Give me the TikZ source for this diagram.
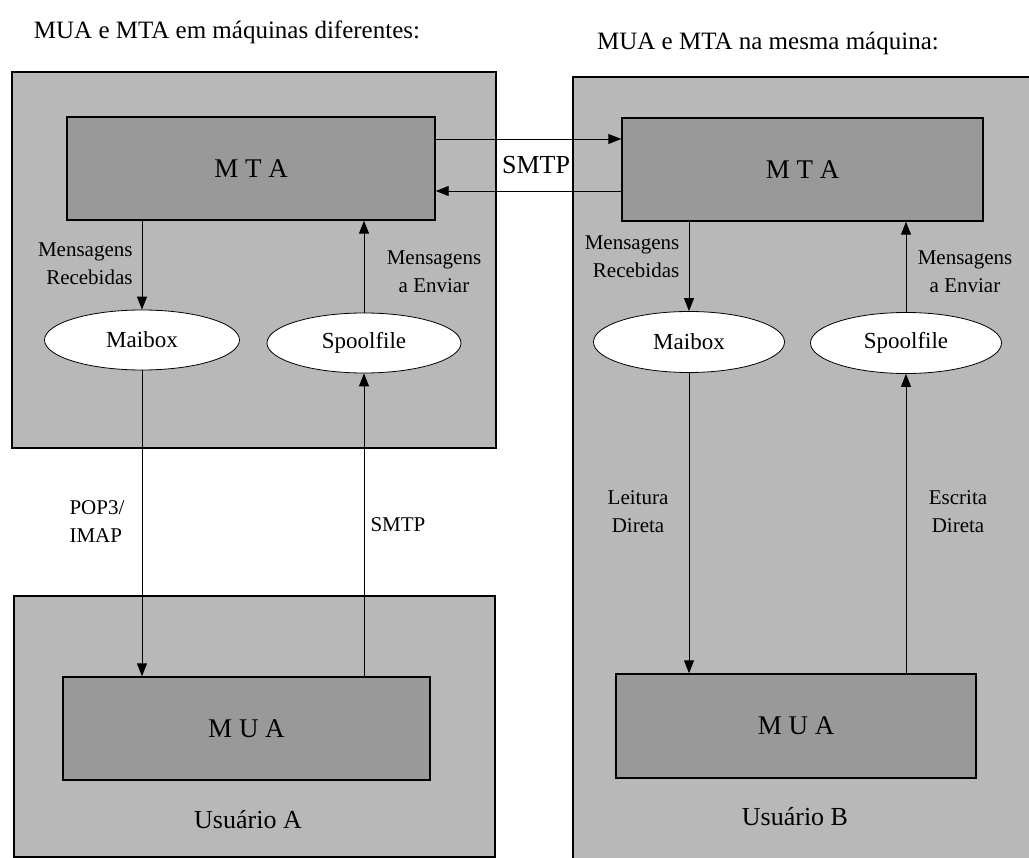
\documentclass[tikz,border=0pt]{standalone}
\usepackage{fontspec}
\setmainfont{Liberation Serif}
\usetikzlibrary{shapes.geometric,arrows.meta}

\definecolor{hostgray}{gray}{0.72}
\definecolor{agentgray}{gray}{0.6}

\begin{document}
\begin{tikzpicture}[
    x=1pt, y=-1pt,
    host/.style={draw, line width=1.3pt, fill=hostgray, inner sep=0pt},
    agent/.style={draw, line width=1.4pt, fill=agentgray, inner sep=0pt, font=\fontsize{27}{28}\selectfont},
    store/.style={draw, ellipse, fill=white, line width=0.8pt, inner sep=0pt, font=\fontsize{23}{26}\selectfont},
    note/.style={font=\fontsize{21}{28}\selectfont, inner sep=0pt},
    title/.style={font=\fontsize{25}{28}\selectfont, inner sep=0pt},
    >={Triangle[length=13pt,width=10pt]},
    line width=0.9pt
]
\useasboundingbox (0,0) rectangle (1029,858);

% titulos
\node (titleA) [title] at (227,32) {MUA e MTA em máquinas diferentes:};
\node (titleB) [title] at (768,43) {MUA e MTA na mesma máquina:};

% maquinas
\node (hostA) [host, minimum width=484pt, minimum height=376pt] at (254,260) {};
\node (userA) [host, minimum width=481pt, minimum height=261pt] at (254.5,726.5) {};
\node (hostB) [host, minimum width=470pt, minimum height=790pt] at (808,472) {};

% agentes
\node (mtaA) [agent, minimum width=368pt, minimum height=103pt] at (251,168.5) {M T A};
\node (mtaB) [agent, minimum width=361pt, minimum height=103pt] at (802.5,169.5) {M T A};
\node (muaA) [agent, minimum width=367pt, minimum height=103pt] at (246.5,728.5) {M U A};
\node (muaB) [agent, minimum width=360pt, minimum height=104pt] at (796,726) {M U A};

% arquivos
\node (mboxA)  [store, minimum width=195pt, minimum height=60pt] at (142,340) {Maibox};
\node (spoolA) [store, minimum width=194pt, minimum height=60pt] at (364,343) {Spoolfile};
\node (mboxB)  [store, minimum width=191pt, minimum height=61pt] at (689,342) {Maibox};
\node (spoolB) [store, minimum width=191pt, minimum height=61pt] at (906,343) {Spoolfile};

\node (userAlbl) [title, font=\fontsize{26}{28}\selectfont] at (248,820) {Usuário A};
\node (userBlbl) [title, font=\fontsize{26}{28}\selectfont] at (795,817) {Usuário B};

% SMTP entre os MTAs
\draw[->] ([yshift=29.5pt]mtaA.east) -- ([yshift=29.5pt]mtaA.east -| mtaB.west);
\draw[->] ([yshift=-22.5pt]mtaA.east -| mtaB.west) -- ([yshift=-22.5pt]mtaA.east);
\node (smtpAB) [note, font=\fontsize{26}{28}\selectfont] at (536,165) {SMTP};

% lado A
\draw[->] (mboxA.north |- mtaA.south) -- (mboxA.north);
\draw[->] (spoolA.north) -- (spoolA.north |- mtaA.south);
\draw[->] (mboxA.south) -- (mboxA.south |- muaA.north);
\draw[->] (spoolA.south |- muaA.north) -- (spoolA.south);

\node (recvA) [note, align=right, anchor=east] at (133,264) {Mensagens\\Recebidas};
\node (sendA) [note, align=center] at (434,272) {Mensagens\\a Enviar};
\node (popA)  [note, align=left] at (97,522) {POP3/\\IMAP};
\node (smtpA) [note] at (398,525) {SMTP};

% lado B
\draw[->] (mboxB.north |- mtaB.south) -- (mboxB.north);
\draw[->] (spoolB.north) -- (spoolB.north |- mtaB.south);
\draw[->] (mboxB.south) -- (mboxB.south |- muaB.north);
\draw[->] (spoolB.south |- muaB.north) -- (spoolB.south);

\node (recvB) [note, align=right] at (632,257) {Mensagens\\Recebidas};
\node (sendB) [note, align=center] at (965,272) {Mensagens\\a Enviar};
\node (readB) [note, align=center] at (638,512) {Leitura\\Direta};
\node (writeB) [note, align=center] at (958,512) {Escrita\\Direta};

\end{tikzpicture}
\end{document}
